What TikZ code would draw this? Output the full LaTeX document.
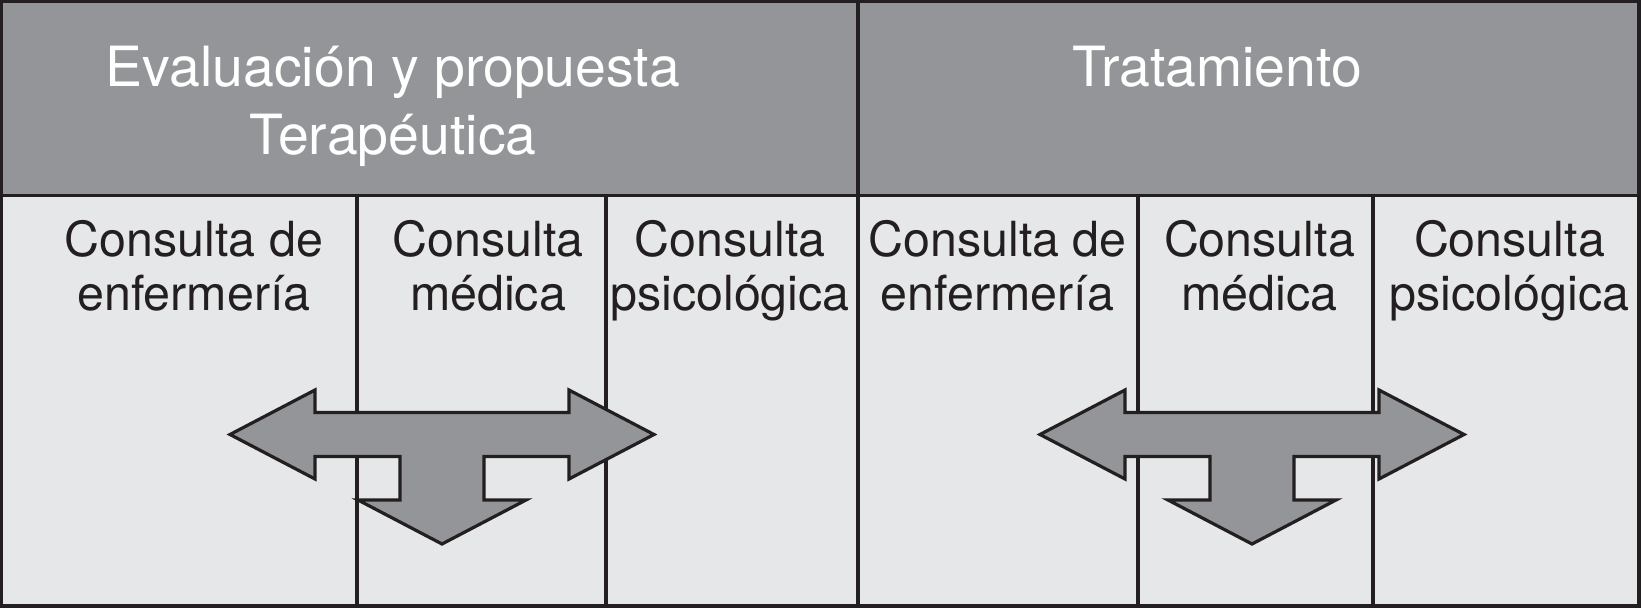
\documentclass[tikz,border=0pt]{standalone}
\usepackage{fontspec}
\setmainfont{TeX Gyre Heros}
\definecolor{hdr}{HTML}{939598}
\definecolor{cellbg}{HTML}{E6E7E8}
\definecolor{ink}{HTML}{231F20}
\begin{document}
\begin{tikzpicture}[x=0.5pt,y=-0.5pt,
  hdrtext/.style={text=white, font=\fontsize{27.7}{34}\selectfont, align=center, anchor=base, inner sep=0pt},
  celltext/.style={text=ink, font=\fontsize{24.2}{27}\selectfont, align=center, anchor=base, inner sep=0pt},
  rule/.style={draw=ink, line width=1.6pt},
  tarrow/.pic={
    \path[fill=hdr, draw=ink, line width=1.6pt, line join=miter]
      (-212,0) -- (-127,-44.5) -- (-127,-22) -- (127,-22) -- (127,-44.5) -- (212,0)
      -- (127,44.5) -- (127,22) -- (42,22) -- (42,65.5) -- (84,65.5) -- (0,109.5)
      -- (-84,65.5) -- (-42,65.5) -- (-42,22) -- (-127,22) -- (-127,44.5) -- cycle;
  }]
\useasboundingbox (0,0) rectangle (1641,609);
% backgrounds
\fill[hdr] (1.5,1.5) rectangle (1639,195.5);
\fill[cellbg] (1.5,195.5) rectangle (1639,606);
% grid
\draw[rule] (1.5,195.5) -- (1639,195.5);
\draw[rule] (858,1.5) -- (858,606);
\foreach \xx in {357,606,1138,1373} { \draw[rule] (\xx,195.5) -- (\xx,606); }
\draw[rule] (1.5,1.5) rectangle (1639,606);
% arrows
\pic at (442,434.5) {tarrow};
\pic at (1252,434.5) {tarrow};
% headers
\node[hdrtext] (h1) at (393,155) {Evaluación y propuesta\\Terapéutica};
\node[hdrtext] (h2) at (1217,87) {Tratamiento};
% cells
\node[celltext] (c1) at (194,310) {Consulta de\\enfermería};
\node[celltext] (c2) at (488,310) {Consulta\\médica};
\node[celltext] (c3) at (730,310) {Consulta\\psicológica};
\node[celltext] (c4) at (997.5,310) {Consulta de\\enfermería};
\node[celltext] (c5) at (1259.5,310) {Consulta\\médica};
\node[celltext] (c6) at (1509.5,310) {Consulta\\psicológica};
\end{tikzpicture}
\end{document}
